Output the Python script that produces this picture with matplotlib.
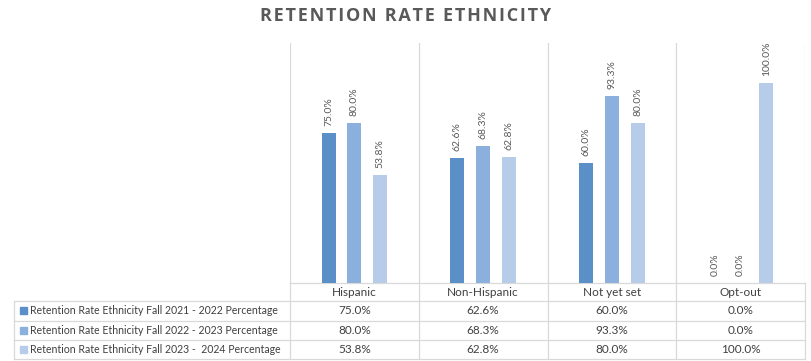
import numpy as np
import matplotlib.pyplot as plt

categories = ['Hispanic', 'Non-Hispanic', 'Not yet set', 'Opt-out']
series_names = ['Retention Rate Ethnicity Fall 2021 - 2022 Percentage',
                'Retention Rate Ethnicity Fall 2022 - 2023 Percentage',
                'Retention Rate Ethnicity Fall 2023 -  2024 Percentage']
fall_2021 = [75.0, 62.6, 60.0, 0.0]
fall_2022 = [80.0, 68.3, 93.3, 0.0]
fall_2023 = [53.8, 62.8, 80.0, 100.0]

series = [fall_2021, fall_2022, fall_2023]
colors = ['#5B8FC8', '#8BB0DE', '#B7CCE9']
text_gray = '#595959'
grid_gray = '#D9D9D9'

plt.rcParams['font.family'] = ['Lato', 'DejaVu Sans']

W, H = 811, 361
fig = plt.figure(figsize=(W / 100, H / 100), dpi=100)

# plot area in pixels
left, right, top, base = 290, 805, 43, 283
ax = fig.add_axes([left / W, (H - base) / H, (right - left) / W, (base - top) / H])

x = np.arange(len(categories))
width = 0.108
offsets = [-0.2, 0.0, 0.2]
for vals, off, c in zip(series, offsets, colors):
    bars = ax.bar(x + off, vals, width=width, color=c, zorder=2)
    for b, v in zip(bars, vals):
        ax.annotate('{:.1f}%'.format(v), (b.get_x() + b.get_width() / 2, v),
                    xytext=(0, 5), textcoords='offset points', rotation=90,
                    ha='center', va='bottom', fontsize=7.5, color=text_gray)

ax.set_xlim(-0.5, len(categories) - 0.5)
ax.set_ylim(0, 120)
ax.axis('off')
for b in np.arange(-0.5, len(categories)):
    ax.axvline(b, color=grid_gray, lw=0.9, zorder=1)

# data table drawn in pixel coordinates on an overlay
tab = fig.add_axes([0, 0, 1, 1], zorder=-1)
tab.set_xlim(0, W)
tab.set_ylim(H, 0)
tab.axis('off')

rows_y = [301, 320.5, 340, 359]
cell_w = (right - left) / len(categories)
centers = [left + (i + 0.5) * cell_w for i in range(len(categories))]

tab.plot([left, right], [base, base], color=grid_gray, lw=0.9)
for y in rows_y:
    tab.plot([14, right], [y, y], color=grid_gray, lw=0.9)
tab.plot([14, 14], [rows_y[0], rows_y[-1]], color=grid_gray, lw=0.9)
for i in range(len(categories) + 1):
    xb = left + i * cell_w
    tab.plot([xb, xb], [base, rows_y[-1]], color=grid_gray, lw=0.9)

for cx, cat in zip(centers, categories):
    tab.text(cx, (base + rows_y[0]) / 2, cat, ha='center', va='center',
             fontsize=8.5, color='#404040')

for r, (name, vals, c) in enumerate(zip(series_names, series, colors)):
    yc = (rows_y[r] + rows_y[r + 1]) / 2
    tab.add_patch(plt.Rectangle((20, yc - 3.5), 7, 7, color=c))
    tab.text(30, yc, name, ha='left', va='center', fontsize=7.6, color='#404040')
    for cx, v in zip(centers, vals):
        tab.text(cx, yc, '{:.1f}%'.format(v), ha='center', va='center',
                 fontsize=8.5, color='#404040')

title = 'RETENTION RATE ETHNICITY'
fig.text(0.5, 1 - 16 / H, '\u200a'.join(title), ha='center', va='center',
         fontsize=13, fontweight='bold', color=text_gray,
         family=['Open Sans', 'DejaVu Sans'])

fig.savefig('out.png', dpi=100, facecolor='white')
